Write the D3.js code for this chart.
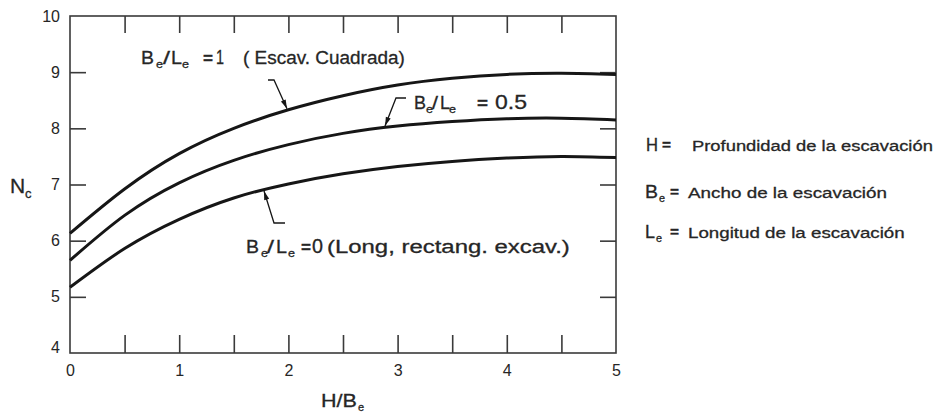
<!DOCTYPE html>
<html>
<head>
<meta charset="utf-8">
<script src="https://cdn.jsdelivr.net/npm/d3@7"></script>
<style>
  html, body { margin: 0; padding: 0; background: #fff; }
  svg { display: block; }
  text { font-family: "Liberation Sans", Arial, Helvetica, sans-serif; fill: #262626; }
  text.note { stroke: #262626; stroke-width: 0.3px; }
</style>
</head>
<body>
<svg id="chart" width="941" height="415"></svg>
<script>
// H/Be values along the horizontal axis
const hOverB = [0, 0.5, 1, 1.5, 2, 2.5, 3, 3.5, 4, 4.5, 5];
// Nc for Be/Le = 1 (square excavation)
const ncSquare = [6.13, 6.92, 7.55, 8.00, 8.33, 8.58, 8.77, 8.89, 8.96, 8.98, 8.96];
// Nc for Be/Le = 0.5
const ncHalf   = [5.65, 6.45, 7.03, 7.43, 7.71, 7.91, 8.04, 8.12, 8.17, 8.18, 8.15];
// Nc for Be/Le = 0 (long rectangular excavation)
const ncStrip  = [5.17, 5.86, 6.38, 6.76, 7.01, 7.19, 7.32, 7.41, 7.47, 7.50, 7.48];

const xTicks = [0, 0.5, 1, 1.5, 2, 2.5, 3, 3.5, 4, 4.5, 5];
const yLabelTicks = [4, 5, 6, 7, 8, 9, 10];
const yInnerTicks = [5, 6, 7, 8, 9];
const xMinorTicks = [0.5, 1, 1.5, 2, 2.5, 3, 3.5, 4, 4.5];

const svg = d3.select("#chart");
const plotL = 70, plotT = 16, plotR = 616, plotB = 353;

const x = d3.scaleLinear().domain([0, 5]).range([plotL, plotR]);
const y = d3.scaleLinear().domain([4, 10]).range([plotB, plotT]);

const ink = "#161616";
const frameInk = "#3a3a3a";

// frame
svg.append("rect")
  .attr("x", plotL).attr("y", plotT)
  .attr("width", plotR - plotL).attr("height", plotB - plotT)
  .attr("fill", "none").attr("stroke", frameInk).attr("stroke-width", 1.6);

function styleAxis(g) {
  g.select(".domain").remove();
  g.selectAll(".tick line").attr("stroke", frameInk).attr("stroke-width", 1.6);
  g.selectAll(".tick text").attr("fill", "#333").style("font-size", "16px")
    .style("font-family", "'Liberation Sans', Arial, sans-serif");
}

// left axis: labels 4..10, inward ticks at 5..9
svg.append("g").attr("transform", `translate(${plotL},0)`)
  .call(d3.axisLeft(y).tickValues(yLabelTicks).tickSizeInner(0).tickSizeOuter(0).tickPadding(10).tickFormat(d3.format("d")))
  .call(styleAxis)
  .call(g => g.selectAll(".tick text").attr("dy", d => d === 4 ? "-0.05em" : "0.32em"));
svg.append("g").attr("transform", `translate(${plotL},0)`)
  .call(d3.axisRight(y).tickValues(yInnerTicks).tickSizeInner(16).tickSizeOuter(0).tickFormat(""))
  .call(styleAxis);

// right axis: inward ticks at 5..9
svg.append("g").attr("transform", `translate(${plotR},0)`)
  .call(d3.axisLeft(y).tickValues(yInnerTicks).tickSizeInner(16).tickSizeOuter(0).tickFormat(""))
  .call(styleAxis);

// bottom axis: labels at integers, inward ticks every 0.5
svg.append("g").attr("transform", `translate(0,${plotB})`)
  .call(d3.axisBottom(x).tickValues(xTicks).tickSizeInner(0).tickSizeOuter(0).tickPadding(12)
    .tickFormat(d => Number.isInteger(d) ? d3.format("d")(d) : ""))
  .call(styleAxis);
svg.append("g").attr("transform", `translate(0,${plotB})`)
  .call(d3.axisTop(x).tickValues(xMinorTicks).tickSizeInner(18).tickSizeOuter(0).tickFormat(""))
  .call(styleAxis);

// top axis: inward ticks every 0.5
svg.append("g").attr("transform", `translate(0,${plotT})`)
  .call(d3.axisBottom(x).tickValues(xMinorTicks).tickSizeInner(17).tickSizeOuter(0).tickFormat(""))
  .call(styleAxis);

// curves
const line = d3.line().x(d => x(d[0])).y(d => y(d[1])).curve(d3.curveNatural);
const series = [ncSquare, ncHalf, ncStrip];
const paths = series.map(vals =>
  svg.append("path")
    .datum(hOverB.map((h, i) => [h, vals[i]]))
    .attr("fill", "none").attr("stroke", ink).attr("stroke-width", 3)
    .attr("stroke-linecap", "butt")
    .attr("d", line)
);

// y on a drawn curve at a given pixel x
function yOnPath(pathSel, px) {
  const node = pathSel.node();
  const L = node.getTotalLength();
  let lo = 0, hi = L;
  for (let k = 0; k < 40; k++) {
    const mid = (lo + hi) / 2;
    if (node.getPointAtLength(mid).x < px) lo = mid; else hi = mid;
  }
  return node.getPointAtLength((lo + hi) / 2).y;
}

// leader with an arrowhead ending on a curve
function leader(points, tip) {
  const all = points.concat([tip]);
  svg.append("path")
    .attr("d", d3.line()(all))
    .attr("fill", "none").attr("stroke", ink).attr("stroke-width", 1.3);
  const prev = all[all.length - 2];
  const ang = Math.atan2(tip[1] - prev[1], tip[0] - prev[0]);
  const len = 9, half = 2.6;
  const bx = tip[0] - len * Math.cos(ang), by = tip[1] - len * Math.sin(ang);
  const nx = -Math.sin(ang), ny = Math.cos(ang);
  svg.append("path")
    .attr("d", `M${tip[0]},${tip[1]}L${bx + nx * half},${by + ny * half}L${bx - nx * half},${by - ny * half}Z`)
    .attr("fill", ink);
}

const t1x = 287, t2x = 385, t3x = 264;
leader([[268, 80], [274, 80]], [t1x, yOnPath(paths[0], t1x) - 1.5]);
leader([[406, 98], [396, 98]], [t2x, yOnPath(paths[1], t2x) - 1.5]);
leader([[285, 223], [274, 223]], [t3x, yOnPath(paths[2], t3x) + 1.5]);

// text helper; when a width is given the glyphs are stretched horizontally to it
function txt(xp, yp, s, size, opts = {}) {
  const t = svg.append("text").attr("class", "note").text(s).style("font-size", size + "px");
  if (opts.bold) t.style("font-weight", "bold");
  if (opts.len) {
    t.attr("x", 0).attr("y", 0);
    const w = t.node().getComputedTextLength();
    t.attr("transform", `translate(${xp},${yp}) scale(${opts.len / w},1)`);
  } else {
    t.attr("x", xp).attr("y", yp);
  }
  return t;
}

// label: Be/Le = 1 ( Escav. Cuadrada)
txt(141, 64, "B", 19, { len: 13 });
txt(156, 68, "e", 11, { len: 7 });
txt(163, 64, "/", 19, { len: 7 });
txt(171, 64, "L", 19, { len: 11 });
txt(182, 68, "e", 11, { len: 7 });
txt(203, 64, "=", 17, { bold: true, len: 10 });
txt(216, 64, "1", 20, { len: 8 });
txt(243, 64, "( Escav. Cuadrada)", 19, { len: 162 });

// label: Be/Le = 0.5
txt(414, 109, "B", 19, { len: 12 });
txt(426, 113, "e", 11, { len: 7 });
txt(432, 109, "/", 19, { len: 6 });
txt(440, 109, "L", 19, { len: 10 });
txt(449, 113, "e", 11, { len: 7 });
txt(477, 109, "=", 17, { bold: true, len: 11 });
txt(495, 109, "0.5", 20, { len: 32 });

// label: Be/Le = 0 (Long, rectang. excav.)
txt(246, 253, "B", 19, { len: 13 });
txt(261, 257, "e", 11, { len: 7 });
txt(267, 253, "/", 19, { len: 7 });
txt(276, 253, "L", 19, { len: 11 });
txt(288, 257, "e", 11, { len: 7 });
txt(301, 253, "=", 17, { bold: true, len: 10 });
txt(312, 253, "0", 20, { len: 11 });
txt(327, 253, "(Long, rectang. excav.)", 19, { len: 243 });

// axis titles
txt(10, 193, "N", 21);
txt(25, 198, "c", 13);
txt(321, 407, "H/B", 19, { len: 36 });
txt(358, 411, "e", 11);

// definitions of symbols
txt(646, 151, "H", 18, { len: 12 });
txt(662, 150, "=", 15, { bold: true, len: 9 });
txt(692, 151, "Profundidad de la escavación", 15.5, { len: 241 });

txt(645, 198, "B", 18, { len: 13 });
txt(659, 202, "e", 10, { len: 6 });
txt(670, 197, "=", 15, { bold: true, len: 9 });
txt(688, 198, "Ancho de la escavación", 15.5, { len: 199 });

txt(645, 238, "L", 18, { len: 10 });
txt(656, 242, "e", 10, { len: 6 });
txt(670, 237, "=", 15, { bold: true, len: 9 });
txt(688, 238, "Longitud de la escavación", 15.5, { len: 217 });
</script>
</body>
</html>
